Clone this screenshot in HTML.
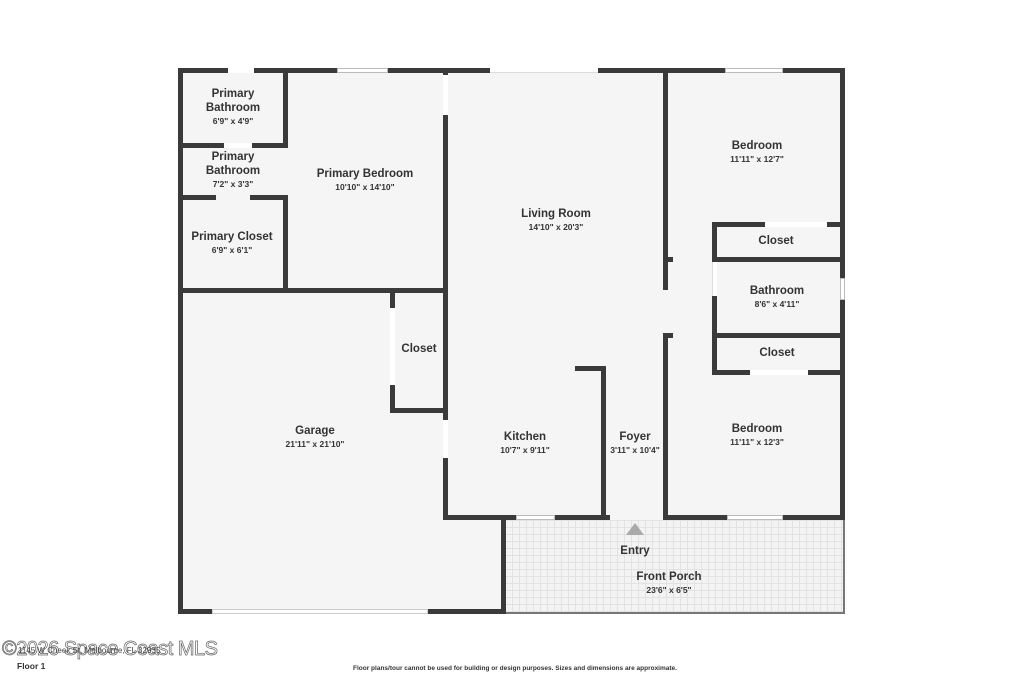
<!DOCTYPE html>
<html><head><meta charset="utf-8"><style>
body{margin:0;width:1024px;height:683px;background:#fff;position:relative;overflow:hidden;font-family:"Liberation Sans",sans-serif}
div{position:absolute;box-sizing:border-box}
.w{background:#3a3a3a}
.g{background:#fff}
.win{background:#fff;border:1px solid #bbb}
.t{color:#333;font-weight:bold;text-align:center;font-size:11.5px;line-height:14px;transform:translateX(-50%)}
.t span{display:block;font-size:8.5px;line-height:12px}
</style></head><body>
<!-- floor fill -->
<div style="left:180px;top:70px;width:664px;height:450px;background:#f5f5f5"></div>
<div style="left:180px;top:518px;width:325px;height:94px;background:#f5f5f5"></div>
<!-- porch -->
<div style="left:505px;top:520px;width:340px;height:94px;background-color:#f3f3f3;background-image:linear-gradient(#e2e2e2 1px,transparent 1px),linear-gradient(90deg,#e2e2e2 1px,transparent 1px);background-size:7px 7px;border-right:2px solid #777;border-bottom:2px solid #777"></div>
<!-- outer walls -->
<div class="w" style="left:178px;top:68px;width:667px;height:5px"></div>
<div class="w" style="left:178px;top:68px;width:5px;height:546px"></div>
<div class="w" style="left:840px;top:68px;width:5px;height:452px"></div>
<div class="w" style="left:178px;top:609px;width:328px;height:5px"></div>
<div class="w" style="left:501px;top:515px;width:5px;height:99px"></div>
<div class="g" style="left:212px;top:609px;width:216px;height:5px;border:1px solid #ccc"></div>
<!-- top windows/gaps -->
<div class="g" style="left:228px;top:68px;width:26px;height:5px"></div>
<div class="win" style="left:337px;top:68px;width:51px;height:5px"></div>
<div class="g" style="left:490px;top:68px;width:108px;height:5px;border-bottom:1px solid #ddd"></div>
<div class="win" style="left:725px;top:68px;width:58px;height:5px"></div>
<!-- primary suite -->
<div class="w" style="left:283px;top:70px;width:5px;height:78px"></div>
<div class="w" style="left:178px;top:143px;width:110px;height:5px"></div>
<div class="g" style="left:224px;top:143px;width:28px;height:5px"></div>
<div class="w" style="left:178px;top:195px;width:38px;height:5px"></div>
<div class="w" style="left:250px;top:195px;width:38px;height:5px"></div>
<div class="w" style="left:283px;top:195px;width:5px;height:96px"></div>
<div class="w" style="left:178px;top:288px;width:270px;height:5px"></div>
<div class="w" style="left:443px;top:70px;width:5px;height:450px"></div>
<div class="g" style="left:443px;top:75px;width:5px;height:40px"></div>
<div class="g" style="left:443px;top:420px;width:5px;height:38px"></div>
<!-- garage closet -->
<div class="w" style="left:390px;top:290px;width:5px;height:123px"></div>
<div class="g" style="left:390px;top:308px;width:5px;height:77px"></div>
<div class="w" style="left:390px;top:408px;width:57px;height:5px"></div>
<!-- kitchen bottom -->
<div class="w" style="left:443px;top:515px;width:167px;height:5px"></div>
<div class="win" style="left:516px;top:515px;width:39px;height:5px"></div>
<div class="w" style="left:663px;top:515px;width:182px;height:5px"></div>
<div class="win" style="left:727px;top:515px;width:56px;height:5px"></div>
<!-- kitchen/foyer -->
<div class="w" style="left:601px;top:366px;width:5px;height:154px"></div>
<div class="w" style="left:575px;top:366px;width:31px;height:5px"></div>
<!-- right block -->
<div class="w" style="left:663px;top:70px;width:5px;height:220px"></div>
<div class="w" style="left:663px;top:257px;width:10px;height:5px"></div>
<div class="w" style="left:712px;top:222px;width:5px;height:153px"></div>
<div class="g" style="left:712px;top:262px;width:5px;height:34px;border-left:1px solid #ddd"></div>
<div class="w" style="left:712px;top:222px;width:133px;height:5px"></div>
<div class="g" style="left:765px;top:222px;width:62px;height:5px"></div>
<div class="w" style="left:712px;top:257px;width:133px;height:5px"></div>
<div class="w" style="left:712px;top:333px;width:133px;height:5px"></div>
<div class="w" style="left:712px;top:370px;width:133px;height:5px"></div>
<div class="g" style="left:750px;top:370px;width:58px;height:5px"></div>
<div class="win" style="left:840px;top:278px;width:5px;height:22px"></div>
<div class="w" style="left:663px;top:333px;width:10px;height:5px"></div>
<div class="w" style="left:663px;top:333px;width:5px;height:187px"></div>
<!-- entry -->
<div style="left:626px;top:523px;width:0;height:0;border-left:9px solid transparent;border-right:9px solid transparent;border-bottom:12px solid #aaa"></div>
<!-- labels -->
<div class="t" style="left:233px;top:87px">Primary<br>Bathroom<span>6'9" x 4'9"</span></div>
<div class="t" style="left:233px;top:150px">Primary<br>Bathroom<span>7'2" x 3'3"</span></div>
<div class="t" style="left:232px;top:230px">Primary Closet<span>6'9" x 6'1"</span></div>
<div class="t" style="left:365px;top:167px">Primary Bedroom<span>10'10" x 14'10"</span></div>
<div class="t" style="left:556px;top:207px">Living Room<span>14'10" x 20'3"</span></div>
<div class="t" style="left:757px;top:139px">Bedroom<span>11'11" x 12'7"</span></div>
<div class="t" style="left:776px;top:234px">Closet</div>
<div class="t" style="left:777px;top:284px">Bathroom<span>8'6" x 4'11"</span></div>
<div class="t" style="left:777px;top:346px">Closet</div>
<div class="t" style="left:419px;top:342px">Closet</div>
<div class="t" style="left:315px;top:424px">Garage<span>21'11" x 21'10"</span></div>
<div class="t" style="left:525px;top:430px">Kitchen<span>10'7" x 9'11"</span></div>
<div class="t" style="left:635px;top:430px">Foyer<span>3'11" x 10'4"</span></div>
<div class="t" style="left:757px;top:422px">Bedroom<span>11'11" x 12'3"</span></div>
<div class="t" style="left:635px;top:544px">Entry</div>
<div class="t" style="left:669px;top:570px">Front Porch<span>23'6" x 6'5"</span></div>
<!-- footer -->
<div style="left:2px;top:638px;font-size:20px;color:#fff;-webkit-text-stroke:0.7px #666;white-space:nowrap;letter-spacing:-0.5px">©2026 Space Coast MLS</div>
<div style="left:18px;top:646px;font-size:8px;color:#444;white-space:nowrap">1145 W Cheek St, Melbourne, FL 32935</div>
<div style="left:17px;top:661px;font-size:8.5px;font-weight:bold;color:#333">Floor 1</div>
<div style="left:353px;top:665px;font-size:6.5px;font-weight:bold;color:#333;white-space:nowrap">Floor plans/tour cannot be used for building or design purposes. Sizes and dimensions are approximate.</div>
</body></html>
